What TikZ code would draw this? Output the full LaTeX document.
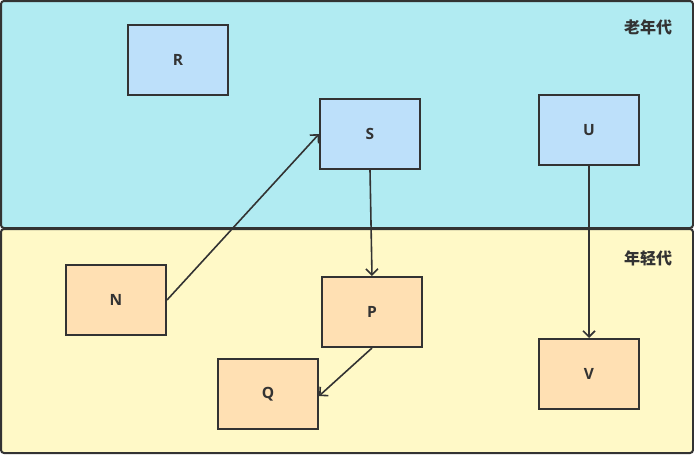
\documentclass[tikz,border=0pt]{standalone}
\usepackage{fontspec}
\setmainfont{Open Sans}
\newfontfamily\cjk{Noto Sans CJK SC}
\usetikzlibrary{arrows.meta}
\definecolor{oldgen}{RGB}{177,235,242}
\definecolor{younggen}{RGB}{255,249,199}
\definecolor{bluebox}{RGB}{189,224,250}
\definecolor{orangebox}{RGB}{255,224,179}
\definecolor{ink}{RGB}{51,51,51}
\tikzset{
  panel/.style={draw=ink, line width=2pt, rounded corners=3pt},
  objbox/.style={draw=ink, line width=2pt, minimum width=100pt, minimum height=70pt,
    inner sep=0pt, font=\bfseries\fontsize{15.5}{17}\selectfont, text=ink},
  oldobj/.style={objbox, fill=bluebox},
  youngobj/.style={objbox, fill=orangebox},
  genlabel/.style={font=\cjk\bfseries\fontsize{16}{18}\selectfont, text=ink},
  ref/.style={draw=ink, line width=1.6pt, -{Straight Barb[length=6pt,width=12pt,line width=1.6pt]}}
}
\begin{document}
\begin{tikzpicture}[x=1pt,y=-1pt]
\useasboundingbox (0,0) rectangle (694,455);
% generations
\path[panel, fill=oldgen] (1,1) rectangle (693,228);
\path[panel, fill=younggen] (1,229) rectangle (693,453);
\node[genlabel] (oldlbl) at (648,27) {老年代};
\node[genlabel] (younglbl) at (648,258) {年轻代};
% objects
\node[oldobj] (R) at (178,60) {R};
\node[oldobj] (S) at (370,134) {S};
\node[oldobj] (U) at (589,130) {U};
\node[youngobj] (N) at (116,300) {N};
\node[youngobj] (P) at (372,312) {P};
\node[youngobj] (Q) at (268,394) {Q};
\node[youngobj] (V) at (589,374) {V};
% references
\draw[ref] (N.east) -- (S.west);
\draw[ref] (S.south) -- (P.north);
\draw[ref] (U.south) -- (V.north);
\draw[ref] (P.south) -- ([yshift=-2pt]Q.east);
\end{tikzpicture}
\end{document}
